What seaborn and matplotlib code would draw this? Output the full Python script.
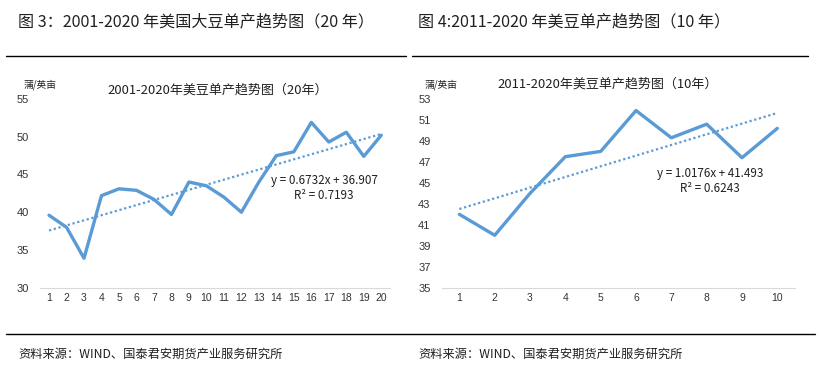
#US soybean yield trend charts
import numpy as np
import pandas as pd
import matplotlib
matplotlib.use("Agg")
import matplotlib.pyplot as plt
import seaborn as sns

# data (bushels/acre), 2001-2020
years_idx_20 = list(range(1, 21))
yield_20 = [39.6, 38.0, 33.9, 42.2, 43.1, 42.9, 41.7, 39.7, 44.0, 43.5,
            42.0, 40.0, 44.0, 47.5, 48.0, 51.9, 49.3, 50.6, 47.4, 50.2]
years_idx_10 = list(range(1, 11))
yield_10 = yield_20[10:]

fig_titles = ["图 3：2001-2020 年美国大豆单产趋势图（20 年）",
              "图 4:2011-2020 年美豆单产趋势图（10 年）"]
chart_titles = ["2001-2020年美豆单产趋势图（20年）",
                "2011-2020年美豆单产趋势图（10年）"]
eq_texts = ["y = 0.6732x + 36.907\nR² = 0.7193",
            "y = 1.0176x + 41.493\nR² = 0.6243"]
unit_label = "蒲/英亩"
source_text = "资料来源：WIND、国泰君安期货产业服务研究所"

sns.set_theme(style="white")
plt.rcParams['font.family'] = ['Noto Sans CJK SC', 'DejaVu Sans']
num_font = ['Liberation Sans', 'DejaVu Sans']

W, H = 818, 371
blue = "#5B9BD5"
fig = plt.figure(figsize=(W / 100, H / 100), dpi=100)

def px_axes(x0, y0, x1, y1):
    return fig.add_axes([x0 / W, 1 - y1 / H, (x1 - x0) / W, (y1 - y0) / H])

def draw_panel(ax, xs, ys, ylim, yticks, title, eq, eq_xy, unit_xy):
    df = pd.DataFrame({"x": xs, "y": ys})
    sns.regplot(data=df, x="x", y="y", ax=ax, scatter=False, ci=None,
                line_kws=dict(color=blue, lw=1.6, ls=(0, (1, 1.2))))
    sns.lineplot(data=df, x="x", y="y", ax=ax, color=blue, lw=2.4)
    ax.set_xlim(0.5, len(xs) + 0.5)
    ax.set_ylim(*ylim)
    ax.set_yticks(yticks)
    ax.set_xticks(xs)
    ax.set_xticks(np.arange(0.5, len(xs) + 1, 1), minor=True)
    ax.tick_params(axis="x", which="major", length=0, labelsize=7.5, pad=4, colors="#333333")
    ax.tick_params(axis="x", which="minor", length=4, color="#D9D9D9", width=0.8, direction="out")
    ax.tick_params(axis="y", length=0, labelsize=8, pad=8, colors="#333333")
    for lab in ax.get_xticklabels() + ax.get_yticklabels():
        lab.set_family(num_font)
    ax.set_xlabel("")
    ax.set_ylabel("")
    for s in ["top", "right", "left"]:
        ax.spines[s].set_visible(False)
    ax.spines["bottom"].set_color("#D9D9D9")
    ax.spines["bottom"].set_linewidth(0.8)
    ax.grid(False)
    ax.patch.set_alpha(0)
    fig.text(ax.get_position().x0 + ax.get_position().width / 2 + title[1] / W, 1 - title[2] / H,
             title[0], ha="center", va="center", fontsize=9.4, color="#202020")
    fig.text(eq_xy[0] / W, 1 - eq_xy[1] / H, eq, ha="center", va="center",
             fontsize=8.4, color="#202020", linespacing=1.15)
    fig.text(unit_xy[0] / W, 1 - unit_xy[1] / H, unit_label, ha="left", va="center",
             fontsize=7, color="#202020")

ax1 = px_axes(40.3, 99, 390, 287.7)
draw_panel(ax1, years_idx_20, yield_20, (30, 55), range(30, 56, 5),
           (chart_titles[0], 3, 90), eq_texts[0], (324, 188), (24, 85))

ax2 = px_axes(441.7, 99, 795, 287.7)
draw_panel(ax2, years_idx_10, yield_10, (35, 53), range(35, 54, 2),
           (chart_titles[1], -11, 84), eq_texts[1], (710, 181), (425, 85))

# figure captions and rules
fig.text(18 / W, 1 - 22 / H, fig_titles[0], ha="left", va="center", fontsize=11.6, color="#202020")
fig.text(418 / W, 1 - 22 / H, fig_titles[1], ha="left", va="center", fontsize=11.6, color="#202020")
fig.add_artist(plt.Line2D([6 / W, 406 / W], [1 - 56 / H] * 2, color="black", lw=1))
fig.add_artist(plt.Line2D([412 / W, 808 / W], [1 - 56 / H] * 2, color="black", lw=1))
fig.add_artist(plt.Line2D([6 / W, 815 / W], [1 - 334 / H] * 2, color="black", lw=1))
fig.text(18 / W, 1 - 354 / H, source_text, ha="left", va="center", fontsize=8.8, color="#202020")
fig.text(418 / W, 1 - 354 / H, source_text, ha="left", va="center", fontsize=8.8, color="#202020")

fig.savefig("out.png", dpi=100)
plt.close()
